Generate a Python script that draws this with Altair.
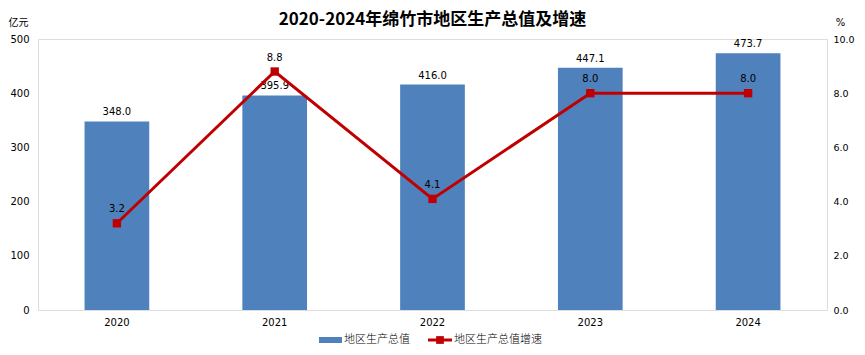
import altair as alt
import pandas as pd

years = ["2020", "2021", "2022", "2023", "2024"]
gdp = [348.0, 395.9, 416.0, 447.1, 473.7]
growth = [3.2, 8.8, 4.1, 8.0, 8.0]
title_text = "2020-2024年绵竹市地区生产总值及增速"
legend_labels = ["地区生产总值", "地区生产总值增速"]

df = pd.DataFrame({"year": years, "gdp": gdp, "growth": growth})
one = pd.DataFrame({"k": [0]})

W, H = 789, 271
NUM = "DejaVu Sans"
CJK = "Noto Sans CJK SC"
BLUE = "#4F81BD"
RED = "#C00000"

xenc = alt.X(
    "year:N", title=None, sort=years,
    scale=alt.Scale(paddingInner=0.59, paddingOuter=0.295),
    axis=alt.Axis(labelAngle=0, ticks=False, domain=False, labelPadding=7,
                  labelFontSize=10, labelFont=NUM, labelColor="#000"),
)

base = alt.Chart(df)

bars = base.mark_bar(color=BLUE).encode(
    x=xenc,
    y=alt.Y("gdp:Q", scale=alt.Scale(domain=[0, 500], nice=False),
            axis=alt.Axis(values=[0, 100, 200, 300, 400, 500], grid=False, ticks=False,
                          domain=False, labelPadding=9, labelFontSize=10, labelFont=NUM,
                          labelColor="#000", title="亿元", titleAngle=0, titleX=-20,
                          titleY=-17, titleAlign="center", titleBaseline="middle",
                          titleFont=CJK, titleFontSize=10, titleFontWeight="normal",
                          titleColor="#000")),
)
bar_text = base.mark_text(baseline="bottom", dy=-4, font=NUM, fontSize=10, color="#000").encode(
    x=alt.X("year:N", sort=years), y=alt.Y("gdp:Q"), text=alt.Text("gdp:Q", format=".1f")
)
left = alt.layer(bars, bar_text)

yr = alt.Y("growth:Q", scale=alt.Scale(domain=[0, 10], nice=False),
           axis=alt.Axis(orient="right", values=[0, 2, 4, 6, 8, 10], format=".1f", grid=False,
                         ticks=False, domain=False, labelPadding=6, labelFontSize=9.5,
                         labelFont=NUM, labelColor="#000", title="%", titleAngle=0,
                         titleX=13, titleY=-17, titleAlign="center", titleBaseline="middle",
                         titleFont=NUM, titleFontSize=10, titleFontWeight="normal",
                         titleColor="#000"))
line = base.mark_line(color=RED, strokeWidth=3,
                      point=alt.OverlayMarkDef(shape="square", size=70, filled=True, color=RED, opacity=1)).encode(
    x=alt.X("year:N", sort=years), y=yr
)
line_text = base.mark_text(baseline="bottom", dy=-9, font=NUM, fontSize=10, color="#000").encode(
    x=alt.X("year:N", sort=years), y=alt.Y("growth:Q"), text=alt.Text("growth:Q", format=".1f")
)
right = alt.layer(line, line_text)

ann = alt.Chart(one)

# chart title (as text)
title_mark = ann.mark_text(text=title_text, align="center", baseline="middle",
                           font=CJK, fontSize=17, fontWeight="bold", color="#000").encode(
    x=alt.value(W / 2), y=alt.value(-19))

# legend
LY = 301
leg_rect = ann.mark_rect(color=BLUE).encode(
    x=alt.value(281), x2=alt.value(304), y=alt.value(LY - 3), y2=alt.value(LY + 3))
leg_t1 = ann.mark_text(text=legend_labels[0], align="left", baseline="middle",
                       font=CJK, fontSize=11, fontWeight=300, color="#000").encode(
    x=alt.value(306), y=alt.value(LY))
leg_rule = ann.mark_rule(color=RED, strokeWidth=3).encode(
    x=alt.value(390), x2=alt.value(414), y=alt.value(LY))
leg_pt = ann.mark_point(shape="square", size=60, filled=True, color=RED, opacity=1).encode(
    x=alt.value(402), y=alt.value(LY))
leg_t2 = ann.mark_text(text=legend_labels[1], align="left", baseline="middle",
                       font=CJK, fontSize=11, fontWeight=300, color="#000").encode(
    x=alt.value(416), y=alt.value(LY))

chart = alt.layer(left, right, title_mark, leg_rect, leg_t1, leg_rule, leg_pt, leg_t2).resolve_scale(
    y="independent"
).properties(
    width=W, height=H,
    autosize=alt.AutoSizeParams(type="none"),
    padding={"left": 30, "top": 31, "right": 30, "bottom": 37},
).configure_view(stroke="#8c8c8c", strokeWidth=1).configure(background="white")

chart.save("out.html", embed_options={"renderer": "svg", "actions": False})
